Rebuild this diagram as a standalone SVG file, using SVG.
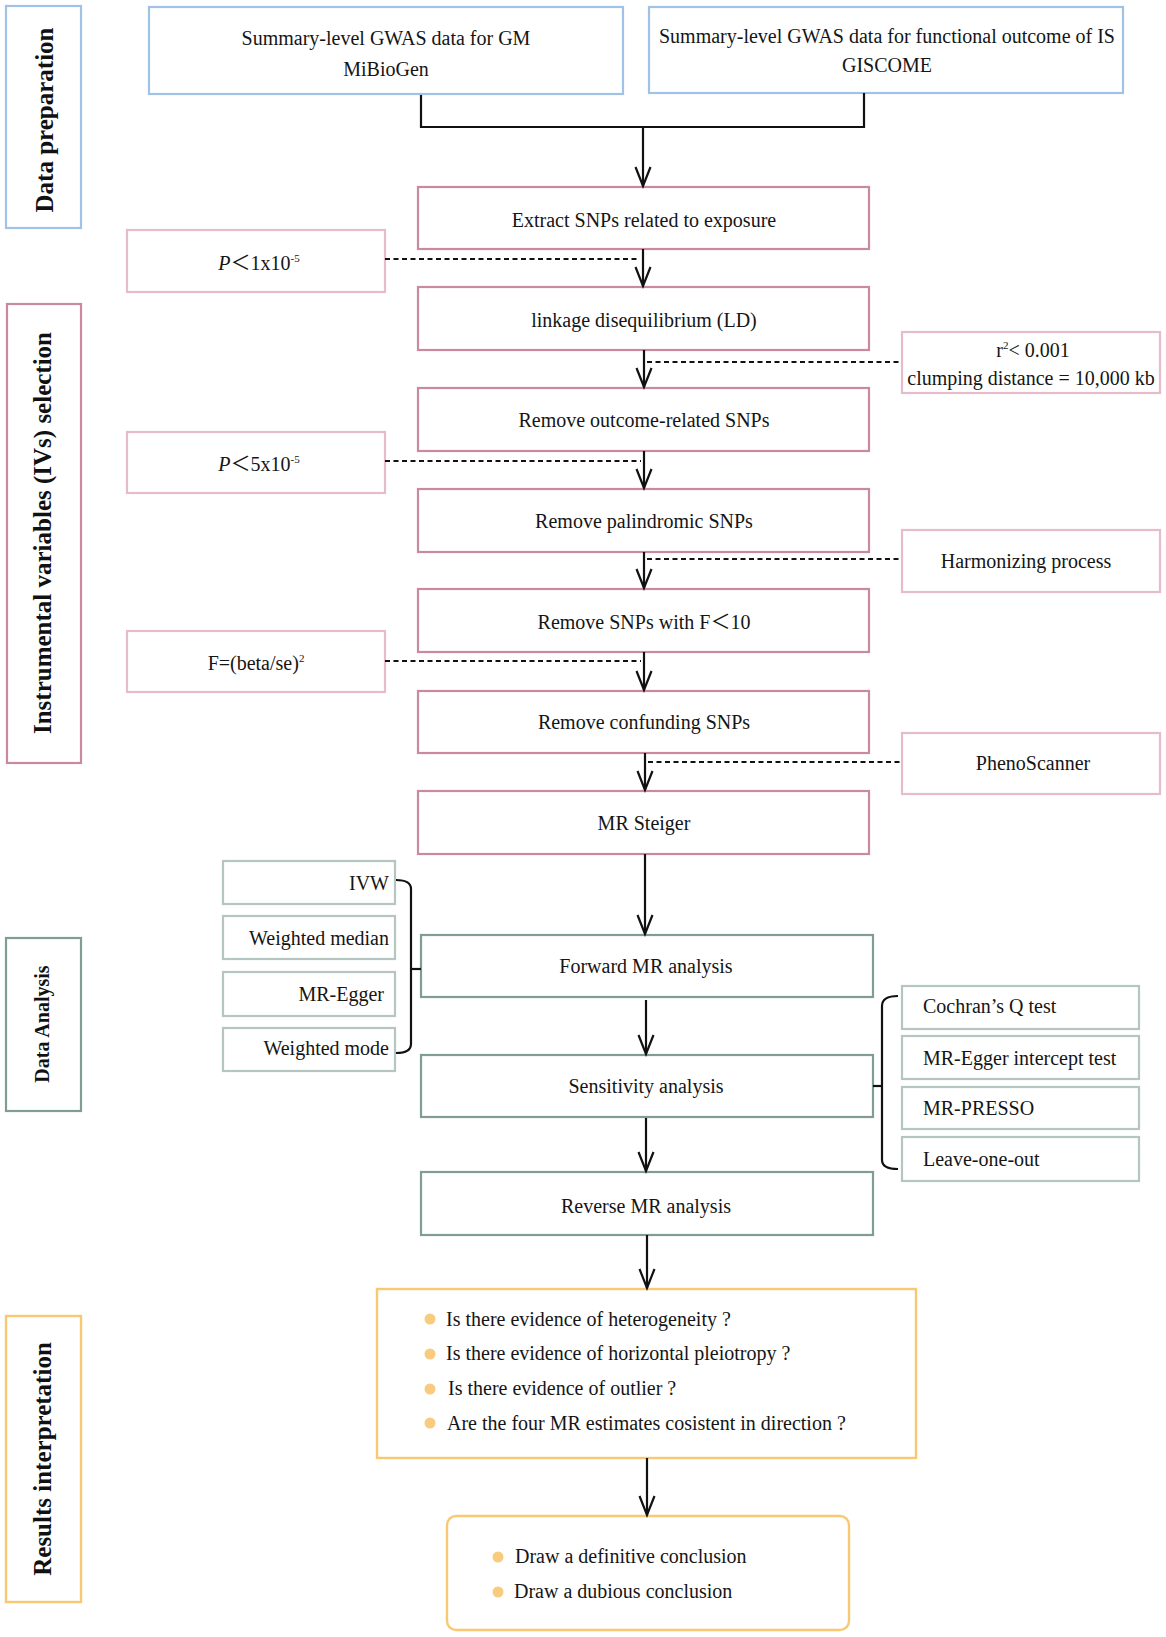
<svg xmlns="http://www.w3.org/2000/svg" width="1166" height="1637" viewBox="0 0 1166 1637">
<style>
  .bg{fill:#ffffff}
  .t{font-family:"Liberation Serif","Noto Sans CJK SC",serif;font-size:20px;fill:#151515}
  .c{text-anchor:middle}
  .e{text-anchor:end}
  .lbl{font-family:"Liberation Serif",serif;font-weight:bold;font-size:25px;fill:#111;text-anchor:middle}
  .lbl2{font-family:"Liberation Serif",serif;font-weight:bold;font-size:20px;fill:#111;text-anchor:middle}
  .blue{fill:#fff;stroke:#9fc2e6;stroke-width:2.2}
  .pk{fill:#fff;stroke:#c98a9f;stroke-width:2.2}
  .pkl{fill:#fff;stroke:#e6bccb;stroke-width:2.2}
  .gr{fill:#fff;stroke:#7f9d92;stroke-width:2.2}
  .grl{fill:#fff;stroke:#b5c5bf;stroke-width:2.2}
  .or{fill:#fff;stroke:#f9c872;stroke-width:2.4}
  .dot{fill:#f8cb7e}
  .ln{fill:none;stroke:#111;stroke-width:2.2}
  .ar{fill:none;stroke:#111;stroke-width:2.2;marker-end:url(#arr)}
  .ds{fill:none;stroke:#111;stroke-width:2.2;stroke-dasharray:5 3.5}
  .sup{font-size:11px}
</style>
<defs>
  <marker id="arr" markerUnits="userSpaceOnUse" markerWidth="24" markerHeight="20" refX="20" refY="8" orient="auto" overflow="visible">
    <path d="M1,0.5 L20,8 L1,15.5" fill="none" stroke="#111" stroke-width="2.2"/>
  </marker>
</defs>
<rect class="bg" x="0" y="0" width="1166" height="1637"/>

<g id="label-data-preparation">
  <rect class="blue" x="6" y="6" width="75" height="222"/>
  <text class="lbl" transform="translate(53,120) rotate(-90)">Data preparation</text>
</g>
<g id="label-iv-selection">
  <rect class="pk" x="7" y="304" width="74" height="459"/>
  <text class="lbl" transform="translate(51,533) rotate(-90)">Instrumental variables (IVs) selection</text>
</g>
<g id="label-data-analysis">
  <rect class="gr" x="6" y="938" width="75" height="173"/>
  <text class="lbl2" transform="translate(49,1024) rotate(-90)">Data Analysis</text>
</g>
<g id="label-results">
  <rect class="or" x="6" y="1316" width="75" height="286"/>
  <text class="lbl" transform="translate(51,1459) rotate(-90)">Results interpretation</text>
</g>

<g id="gm-data">
  <rect class="blue" x="149" y="7" width="474" height="87"/>
  <text class="t c" x="386" y="45">Summary-level GWAS data for GM</text>
  <text class="t c" x="386" y="76">MiBioGen</text>
</g>
<g id="outcome-data">
  <rect class="blue" x="649" y="7" width="474" height="86"/>
  <text class="t c" x="887" y="43">Summary-level GWAS data for functional outcome of IS</text>
  <text class="t c" x="887" y="72">GISCOME</text>
</g>

<g id="extract">
  <rect class="pk" x="418" y="187" width="451" height="62"/>
  <text class="t c" x="644" y="227">Extract SNPs related to exposure</text>
</g>
<g id="ld">
  <rect class="pk" x="418" y="287" width="451" height="63"/>
  <text class="t c" x="644" y="327">linkage disequilibrium (LD)</text>
</g>
<g id="remove-outcome">
  <rect class="pk" x="418" y="388" width="451" height="63"/>
  <text class="t c" x="644" y="427">Remove outcome-related SNPs</text>
</g>
<g id="remove-palindromic">
  <rect class="pk" x="418" y="489" width="451" height="63"/>
  <text class="t c" x="644" y="528">Remove palindromic SNPs</text>
</g>
<g id="remove-f">
  <rect class="pk" x="418" y="589" width="451" height="63"/>
  <text class="t c" x="644" y="629">Remove SNPs with F＜10</text>
</g>
<g id="remove-confounding">
  <rect class="pk" x="418" y="691" width="451" height="62"/>
  <text class="t c" x="644" y="729">Remove confunding SNPs</text>
</g>
<g id="mr-steiger">
  <rect class="pk" x="418" y="791" width="451" height="63"/>
  <text class="t c" x="644" y="830">MR Steiger</text>
</g>

<g id="p1">
  <rect class="pkl" x="127" y="230" width="258" height="62"/>
  <text class="t c" x="259" y="270"><tspan font-style="italic">P</tspan>＜1x10<tspan class="sup" dy="-8">-5</tspan></text>
</g>
<g id="r2">
  <rect class="pkl" x="902" y="332" width="258" height="61"/>
  <text class="t c" x="1033" y="357">r<tspan class="sup" dy="-8">2</tspan><tspan dy="8">&lt; 0.001</tspan></text>
  <text class="t c" x="1031" y="385">clumping distance = 10,000 kb</text>
</g>
<g id="p5">
  <rect class="pkl" x="127" y="432" width="258" height="61"/>
  <text class="t c" x="259" y="471"><tspan font-style="italic">P</tspan>＜5x10<tspan class="sup" dy="-8">-5</tspan></text>
</g>
<g id="harmonizing">
  <rect class="pkl" x="902" y="530" width="258" height="62"/>
  <text class="t c" x="1026" y="568">Harmonizing process</text>
</g>
<g id="f-formula">
  <rect class="pkl" x="127" y="631" width="258" height="61"/>
  <text class="t c" x="256" y="670">F=(beta/se)<tspan class="sup" dy="-8">2</tspan></text>
</g>
<g id="phenoscanner">
  <rect class="pkl" x="902" y="733" width="258" height="61"/>
  <text class="t c" x="1033" y="770">PhenoScanner</text>
</g>

<g id="ivw">
  <rect class="grl" x="223" y="861" width="172" height="43"/>
  <text class="t e" x="389" y="890">IVW</text>
</g>
<g id="weighted-median">
  <rect class="grl" x="223" y="916" width="172" height="43"/>
  <text class="t e" x="389" y="945">Weighted median</text>
</g>
<g id="mr-egger">
  <rect class="grl" x="223" y="972" width="172" height="44"/>
  <text class="t e" x="384" y="1001">MR-Egger</text>
</g>
<g id="weighted-mode">
  <rect class="grl" x="223" y="1028" width="172" height="43"/>
  <text class="t e" x="389" y="1055">Weighted mode</text>
</g>

<g id="forward">
  <rect class="gr" x="421" y="935" width="452" height="62"/>
  <text class="t c" x="646" y="973">Forward MR analysis</text>
</g>
<g id="sensitivity">
  <rect class="gr" x="421" y="1055" width="452" height="62"/>
  <text class="t c" x="646" y="1093">Sensitivity analysis</text>
</g>
<g id="reverse">
  <rect class="gr" x="421" y="1172" width="452" height="63"/>
  <text class="t c" x="646" y="1213">Reverse MR analysis</text>
</g>

<g id="cochran">
  <rect class="grl" x="902" y="986" width="237" height="43"/>
  <text class="t" x="923" y="1013">Cochran’s Q test</text>
</g>
<g id="egger-intercept">
  <rect class="grl" x="902" y="1036" width="237" height="43"/>
  <text class="t" x="923" y="1065">MR-Egger intercept test</text>
</g>
<g id="mr-presso">
  <rect class="grl" x="902" y="1087" width="237" height="42"/>
  <text class="t" x="923" y="1115">MR-PRESSO</text>
</g>
<g id="leave-one-out">
  <rect class="grl" x="902" y="1137" width="237" height="44"/>
  <text class="t" x="923" y="1166">Leave-one-out</text>
</g>

<g id="questions">
  <rect class="or" x="377" y="1289" width="539" height="169"/>
  <circle class="dot" cx="430" cy="1319" r="5.5"/>
  <circle class="dot" cx="430" cy="1354" r="5.5"/>
  <circle class="dot" cx="430" cy="1389" r="5.5"/>
  <circle class="dot" cx="430" cy="1423" r="5.5"/>
  <text class="t" x="446" y="1326">Is there evidence of heterogeneity ?</text>
  <text class="t" x="446" y="1360">Is there evidence of horizontal pleiotropy ?</text>
  <text class="t" x="448" y="1395">Is there evidence of outlier ?</text>
  <text class="t" x="447" y="1430">Are the four MR estimates cosistent in direction ?</text>
</g>
<g id="conclusion">
  <rect class="or" x="447" y="1516" width="402" height="114" rx="9" ry="9"/>
  <circle class="dot" cx="498" cy="1557" r="5.5"/>
  <circle class="dot" cx="498" cy="1592" r="5.5"/>
  <text class="t" x="515" y="1563">Draw a definitive conclusion</text>
  <text class="t" x="514" y="1598">Draw a dubious conclusion</text>
</g>

<g id="connectors">
  <path class="ln" d="M421,95 V127 H864 V93"/>
  <path class="ar" d="M643,127 V186"/>
  <path class="ar" d="M643,249 V286"/>
  <path class="ds" d="M385,259 H640"/>
  <path class="ar" d="M644,350 V387"/>
  <path class="ds" d="M647,362 H902"/>
  <path class="ar" d="M644,451 V488"/>
  <path class="ds" d="M385,461 H641"/>
  <path class="ar" d="M644,552 V588"/>
  <path class="ds" d="M647,559 H902"/>
  <path class="ar" d="M644,652 V690"/>
  <path class="ds" d="M385,661 H641"/>
  <path class="ar" d="M645,753 V790"/>
  <path class="ds" d="M648,762 H902"/>
  <path class="ar" d="M645,854 V934"/>
  <path class="ar" d="M646,1000 V1054"/>
  <path class="ar" d="M646,1118 V1171"/>
  <path class="ar" d="M647,1235 V1288"/>
  <path class="ar" d="M647,1458 V1515"/>
  <path class="ln" d="M396,880 Q411,880 411,889 V1044 Q411,1053 396,1053"/>
  <path class="ln" d="M411,969 H421"/>
  <path class="ln" d="M898,996 Q882,996 882,1006 V1160 Q882,1169 898,1169"/>
  <path class="ln" d="M873,1086 H882"/>
</g>
</svg>
